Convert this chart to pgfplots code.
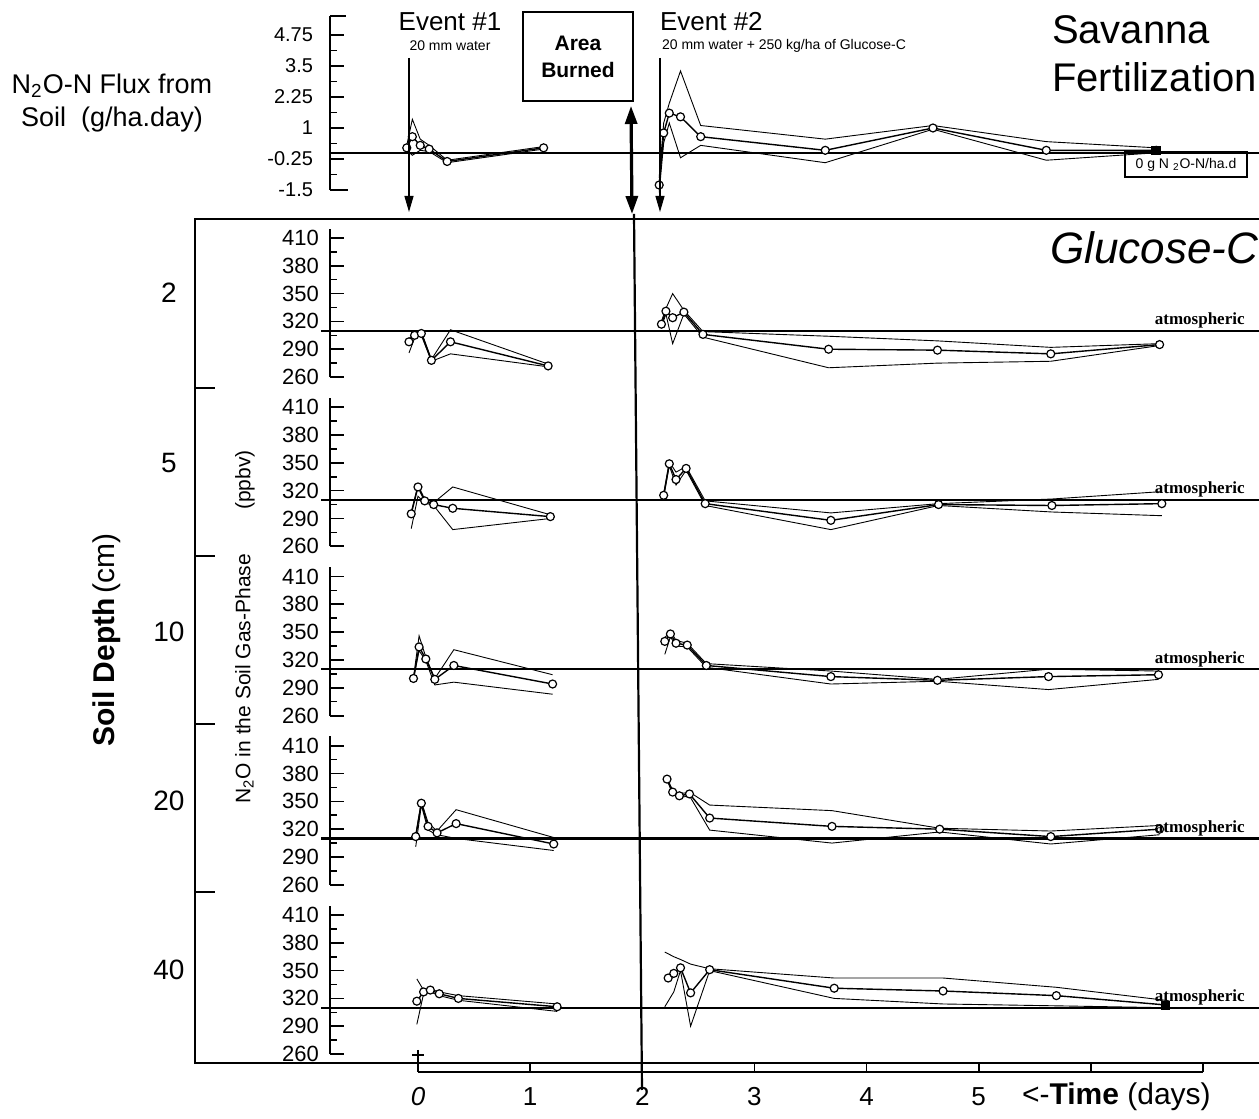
\documentclass[border=0pt]{standalone}
\usepackage{pgfplots}
\pgfplotsset{compat=1.18}
\usepackage{fontspec}
\setmainfont{Liberation Sans}
\newfontfamily\serifb{Liberation Serif}
\usetikzlibrary{arrows.meta}
\newcommand\fs[1]{\fontsize{#1}{#1}\selectfont}
\pgfplotsset{
  mean/.style={black, line width=0.7pt, mark=*, mark size=2pt, mark options={fill=white, line width=0.6pt, solid}},
  env/.style={black, line width=0.45pt, mark=none},
  atm/.style={black, line width=1.1pt, mark=none},
  base/.style={scale only axis, width=464.5pt, xmin=-0.784, xmax=7.496,
    axis x line=none, axis y line=left, axis line style={-, line width=1pt},
    ytick align=inside, major tick length=7pt, minor tick length=3.5pt,
    every tick/.style={black, line width=0.8pt}, clip=false,
    /pgf/number format/assume math mode=true},
  gas/.style={base, height=74.16pt, ymin=260, ymax=420,
    ytick={260,290,...,410}, minor ytick={275,305,335,365,395},
    yticklabel style={font=\fs{11}, xshift=-2pt}},
}
\begin{document}
\begin{tikzpicture}
\path[use as bounding box] (0,0) rectangle (629.5pt,559.5pt);

% ---------- flux panel ----------
\begin{axis}[base, at={(165pt,464.5pt)}, anchor=south west, height=86.8pt,
  ymin=-1.5, ymax=5.5, ytick={-1.5,-0.25,1,2.25,3.5,4.75},
  yticklabels={-1.5,-0.25,1,2.25,3.5,4.75},
  minor ytick={-0.875,0.375,1.625,2.875,4.125},
  yticklabel style={font=\fs{10}, xshift=-5pt}]
\draw[line width=1pt] (axis cs:-0.784,5.5) -- ++(8pt,0pt);
\draw[line width=1pt] (axis cs:-0.784,-1.5) -- ++(9pt,0pt);
\addplot[atm] coordinates {(-0.784,0) (7.6,0)};
% event 1
\addplot[env] coordinates {(-0.10,0.3) (-0.05,1.35) (0.02,0.55) (0.10,0.3) (0.26,-0.3) (1.12,0.25)};
\addplot[env] coordinates {(-0.10,0.1) (-0.05,-0.1) (0.02,0.1) (0.10,0.05) (0.26,-0.4) (1.12,0.15)};
\addplot[mean] coordinates {(-0.10,0.2) (-0.05,0.65) (0.02,0.3) (0.10,0.15) (0.26,-0.35) (1.12,0.2)};
% event 2
\addplot[env] coordinates {(2.15,-1.0) (2.19,1.2) (2.24,2.0) (2.34,3.3) (2.52,1.1) (3.63,0.55) (4.59,1.1) (5.60,0.45) (6.58,0.2)};
\addplot[env] coordinates {(2.15,-1.6) (2.19,0.4) (2.24,1.2) (2.34,-0.2) (2.52,0.3) (3.63,-0.4) (4.59,0.95) (5.60,-0.3) (6.58,0.0)};
\addplot[mean] coordinates {(2.15,-1.3) (2.19,0.8) (2.24,1.6) (2.34,1.45) (2.52,0.65) (3.63,0.1) (4.59,1.0) (5.60,0.1) (6.58,0.1)};
\addplot[only marks, mark=square*, mark size=2.2pt, black] coordinates {(6.58,0.1)};
\end{axis}

% ---------- depth 2 ----------
\begin{axis}[gas, at={(165pt,370.98pt)}, anchor=south west]
\draw[line width=1pt] (axis cs:-0.784,260) -- ++(7pt,0pt);
\addplot[atm] coordinates {(-0.86,310) (7.6,310)};
\addplot[env] coordinates {(-0.08,301) (-0.03,308) (0.03,309) (0.12,279) (0.29,311) (1.16,274)};
\addplot[env] coordinates {(-0.08,286) (-0.03,302) (0.03,305) (0.12,277) (0.29,285) (1.16,271)};
\addplot[mean] coordinates {(-0.08,298) (-0.03,305) (0.03,307) (0.12,278) (0.29,298) (1.16,272)};
\addplot[env] coordinates {(2.17,320) (2.21,334) (2.27,350) (2.37,332) (2.54,309) (3.66,304) (4.63,299) (5.64,292) (6.61,296)};
\addplot[env] coordinates {(2.17,314) (2.21,328) (2.27,296) (2.37,328) (2.54,303) (3.66,270) (4.63,275) (5.64,277) (6.61,294)};
\addplot[mean] coordinates {(2.17,317) (2.21,331) (2.27,324) (2.37,330) (2.54,306) (3.66,290) (4.63,289) (5.64,285) (6.61,295)};
\end{axis}

% ---------- depth 5 ----------
\begin{axis}[gas, at={(165pt,286.35pt)}, anchor=south west]
\draw[line width=1pt] (axis cs:-0.784,260) -- ++(7pt,0pt);
\addplot[atm] coordinates {(-0.86,310) (7.6,310)};
\addplot[env] coordinates {(-0.06,297) (0.00,326) (0.06,311) (0.14,307) (0.31,324) (1.18,294)};
\addplot[env] coordinates {(-0.06,279) (0.00,314) (0.06,307) (0.14,304) (0.31,278) (1.18,290)};
\addplot[mean] coordinates {(-0.06,295) (0.00,324) (0.06,309) (0.14,305) (0.31,301) (1.18,292)};
\addplot[env] coordinates {(2.19,317) (2.24,351) (2.30,340) (2.39,346) (2.56,309) (3.68,296) (4.64,306) (5.65,311) (6.63,319)};
\addplot[env] coordinates {(2.19,313) (2.24,347) (2.30,326) (2.39,342) (2.56,304) (3.68,278) (4.64,304) (5.65,297) (6.63,293)};
\addplot[mean] coordinates {(2.19,315) (2.24,349) (2.30,332) (2.39,344) (2.56,306) (3.68,288) (4.64,305) (5.65,304) (6.63,306)};
\end{axis}

% ---------- depth 10 ----------
\begin{axis}[gas, at={(165pt,201.73pt)}, anchor=south west]
\draw[line width=1pt] (axis cs:-0.784,260) -- ++(7pt,0pt);
\addplot[atm] coordinates {(-0.86,310) (7.6,310)};
\addplot[env] coordinates {(-0.04,301) (0.01,346) (0.07,323) (0.15,300) (0.32,331) (1.20,304)};
\addplot[env] coordinates {(-0.04,299) (0.01,330) (0.07,319) (0.15,293) (0.32,296) (1.20,283)};
\addplot[mean] coordinates {(-0.04,300) (0.01,334) (0.07,321) (0.15,299) (0.32,314) (1.20,294)};
\addplot[env] coordinates {(2.20,344) (2.25,351) (2.30,341) (2.40,338) (2.57,316) (3.68,308) (4.63,299) (5.62,310) (6.60,308)};
\addplot[env] coordinates {(2.20,326) (2.25,345) (2.30,335) (2.40,334) (2.57,312) (3.68,294) (4.63,297) (5.62,288) (6.60,299)};
\addplot[mean] coordinates {(2.20,340) (2.25,348) (2.30,338) (2.40,336) (2.57,314) (3.68,302) (4.63,298) (5.62,302) (6.60,304)};
\end{axis}

% ---------- depth 20 ----------
\begin{axis}[gas, at={(165pt,117.10pt)}, anchor=south west]
\draw[line width=1pt] (axis cs:-0.784,260) -- ++(7pt,0pt);
\addplot[atm] coordinates {(-0.86,310) (7.6,310)};
\addplot[env] coordinates {(-0.02,314) (0.03,350) (0.09,327) (0.17,318) (0.34,341) (1.21,311)};
\addplot[env] coordinates {(-0.02,301) (0.03,346) (0.09,319) (0.17,314) (0.34,310) (1.21,297)};
\addplot[mean] coordinates {(-0.02,312) (0.03,348) (0.09,323) (0.17,316) (0.34,326) (1.21,304)};
\addplot[env] coordinates {(2.22,375) (2.27,362) (2.33,358) (2.42,360) (2.60,346) (3.69,340) (4.65,321) (5.64,318) (6.61,324)};
\addplot[env] coordinates {(2.22,373) (2.27,358) (2.33,354) (2.42,356) (2.60,319) (3.69,305) (4.65,317) (5.64,304) (6.61,314)};
\addplot[mean] coordinates {(2.22,374) (2.27,360) (2.33,356) (2.42,358) (2.60,332) (3.69,323) (4.65,320) (5.64,312) (6.61,320)};
\end{axis}

% ---------- depth 40 ----------
\begin{axis}[gas, at={(165pt,32.48pt)}, anchor=south west]
\draw[line width=1pt] (axis cs:-0.784,260) -- ++(7pt,0pt);
\addplot[atm] coordinates {(-0.86,310) (7.6,310)};
\addplot[env] coordinates {(-0.01,341) (0.05,329) (0.11,330) (0.19,327) (0.36,323) (1.24,314)};
\addplot[env] coordinates {(-0.01,292) (0.05,325) (0.11,327) (0.19,323) (0.36,318) (1.24,306)};
\addplot[mean] coordinates {(-0.01,317) (0.05,327) (0.11,329) (0.19,325) (0.36,320) (1.24,311)};
\addplot[env] coordinates {(2.20,370) (2.28,365) (2.34,362) (2.43,357) (2.60,352) (3.71,342) (4.68,342) (5.69,332) (6.66,318)};
\addplot[env] coordinates {(2.20,311) (2.28,327) (2.34,350) (2.43,290) (2.60,350) (3.71,320) (4.68,314) (5.69,312) (6.66,310)};
\addplot[mean] coordinates {(2.23,342) (2.28,347) (2.34,353) (2.43,326) (2.60,351) (3.71,331) (4.68,328) (5.69,323) (6.66,313)};
\addplot[only marks, mark=square*, mark size=2pt, black] coordinates {(6.66,313)};
\end{axis}

% ---------- time axis ----------
\begin{axis}[scale only axis, at={(209pt,23.5pt)}, anchor=south west,
  width=392.5pt, height=8pt, xmin=0, xmax=7, ymin=0, ymax=1,
  axis y line=none, axis x line=bottom, axis line style={-, line width=1pt},
  xtick={0,...,7}, xticklabels={\textit{0},1,2,3,4,5,{},{}},
  xtick align=inside, major tick length=4.5pt,
  every tick/.style={black, line width=0.8pt},
  xticklabel style={font=\fs{13}, yshift=-4pt, anchor=base, yshift=-13pt}, clip=false]
\end{axis}

% ---------- annotations (pixel coordinates) ----------
\begin{scope}[x=0.5pt, y=-0.5pt, yshift=559.5pt]
\draw[line width=1pt] (195,219) rectangle (1270,1063);
\foreach \yy in {388,556,724,892} \draw[line width=1pt] (195,\yy) -- (215,\yy);
\draw[line width=0.8pt] (418,1050) -- (418,1063);
\draw[line width=0.8pt] (412,1055) -- (424,1055);
\foreach \yy/\dd in {293/2,463/5,632/10,801/20,970/40}
  \node[font=\fs{14}] at (169,\yy) {\dd};
\node[rotate=90, font=\fs{15}] at (107,640) {\textbf{Soil Depth}\,(cm)};
\node[rotate=90, font=\fs{10.5}] at (245,627) {N\textsubscript{2}O in the Soil Gas-Phase\hspace{22pt}(ppbv)};
\node[font=\fs{13.5}, align=center, inner sep=0pt] at (112,103) {N\textsubscript{2}O-N Flux from\\[3pt]Soil \ (g/ha.day)};
% events
\node[font=\fs{13}] at (450,22) {Event \#1};
\node[font=\fs{7}] at (450,46) {20 mm water};
\node[font=\fs{13}, anchor=west] at (653,22) {Event \#2};
\node[font=\fs{7}, anchor=west] at (655,46) {20 mm water + 250 kg/ha of Glucose-C};
\draw[line width=0.8pt] (523,12) rectangle (633,101);
\node[font=\fs{10.5}\bfseries] at (578,43) {Area};
\node[font=\fs{10.5}\bfseries] at (578,70) {Burned};
\draw[line width=0.6pt, -{Triangle[length=8pt,width=4.5pt]}] (409,58) -- (409,212);
\draw[line width=0.6pt, -{Triangle[length=8pt,width=4.5pt]}] (660,58) -- (660,212);
\draw[line width=1.6pt, {Triangle[length=9pt,width=6pt]}-{Triangle[length=9pt,width=6pt]}] (631,106) -- (632,214);
\draw[line width=1.1pt] (634,214) -- (642,1090);
% titles
\node[font=\fs{20}, anchor=west] at (1045,30) {Savanna};
\node[font=\fs{20}, anchor=west] at (1045,77) {Fertilization};
\node[font=\fs{22}\itshape, anchor=west] at (1043,248) {Glucose-C};
% flux zero box
\draw[line width=0.6pt] (1125,152) rectangle (1247,177);
\node[font=\fs{7}] at (1186,165) {0 g N \textsubscript{2}O-N/ha.d};
% atmospheric labels
\foreach \yy in {330.7,500,669.2,838.5,1007.7}
  \node[font=\serifb\fs{8.5}\bfseries, anchor=south east, inner sep=1pt] at (1247,\yy) {atmospheric};
% time label
\node[font=\fs{15}, anchor=west] at (1015,1097) {\textless-\textbf{Time} (days)};
\end{scope}
\end{tikzpicture}
\end{document}
